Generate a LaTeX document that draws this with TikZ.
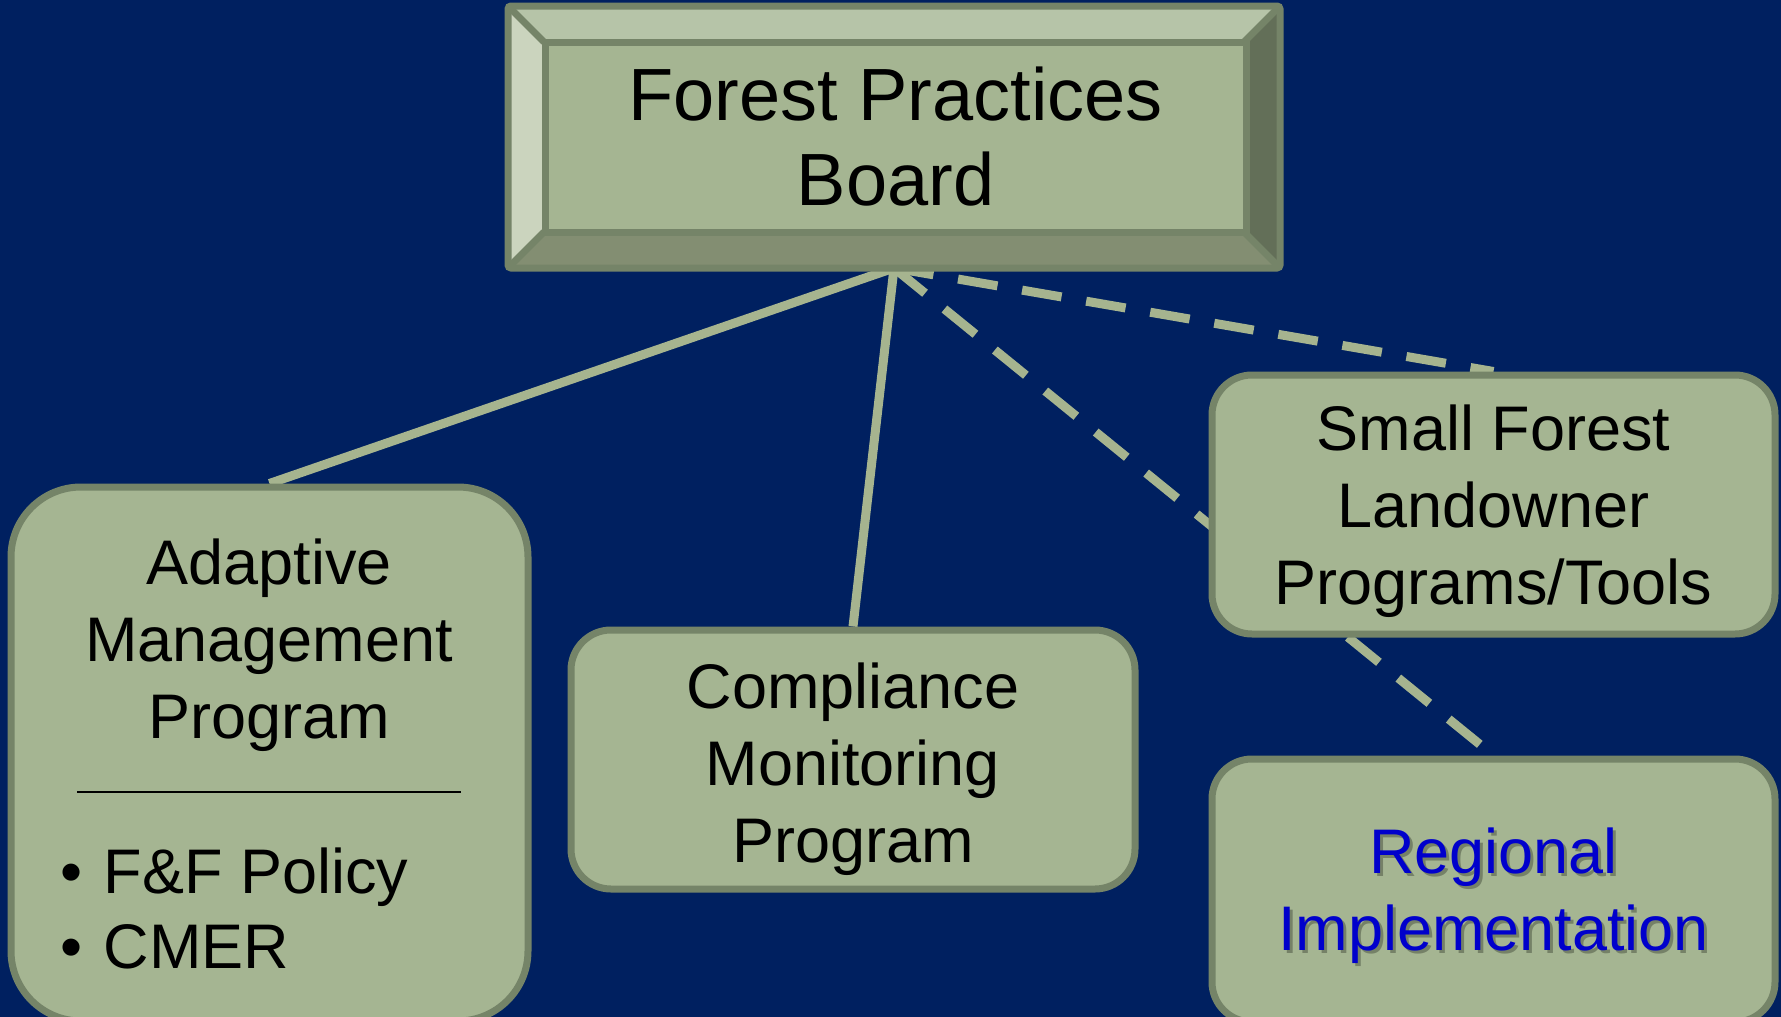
\documentclass[tikz,border=0pt]{standalone}
\usepackage{fontspec}
\setmainfont{Liberation Sans}
\usetikzlibrary{backgrounds}
\definecolor{navy}{RGB}{0,32,96}
\definecolor{sage}{RGB}{165,181,146}
\definecolor{sageedge}{RGB}{117,132,104}
\definecolor{linkgreen}{RGB}{166,180,143}
\definecolor{bevtop}{RGB}{182,196,168}
\definecolor{bevleft}{RGB}{203,212,190}
\definecolor{bevright}{RGB}{99,111,88}
\definecolor{bevbottom}{RGB}{131,142,114}
\definecolor{regblue}{RGB}{0,0,204}
\tikzset{
    progbox/.style={draw=sageedge, fill=sage, line width=7pt, rounded corners=40pt},
    boxtext/.style={align=center, inner sep=0pt, font=\fontsize{63}{77}\selectfont},
    link/.style={draw=linkgreen, line width=9pt},
    dashlink/.style={link, dash pattern=on 40pt off 25pt},
}
% bevelled board box: x1, y1, x2, y2, bevel width
\newcommand\BevelFrame[5]{%
    \fill[bevtop] (#1,#2) -- (#3,#2) -- (#3-#5,#2+#5) -- (#1+#5,#2+#5) -- cycle;
    \fill[bevleft] (#1,#2) -- (#1+#5,#2+#5) -- (#1+#5,#4-#5) -- (#1,#4) -- cycle;
    \fill[bevright] (#3,#2) -- (#3,#4) -- (#3-#5,#4-#5) -- (#3-#5,#2+#5) -- cycle;
    \fill[bevbottom] (#1,#4) -- (#1+#5,#4-#5) -- (#3-#5,#4-#5) -- (#3,#4) -- cycle;
    \draw[sageedge, line width=7pt, line join=round]
        (#1,#2) -- (#1+#5,#2+#5) (#3,#2) -- (#3-#5,#2+#5)
        (#1,#4) -- (#1+#5,#4-#5) (#3,#4) -- (#3-#5,#4-#5);
}

\begin{document}
\begin{tikzpicture}[x=1pt, y=-1pt]
    \useasboundingbox (0,0) rectangle (1781,1017);
    % board
    \BevelFrame{508}{6}{1280}{268}{36}
    \node[draw=sageedge, fill=sage, line width=7pt, minimum width=701pt, minimum height=190pt,
          align=center, inner sep=0pt, font=\fontsize{74}{85}\selectfont] (fpb) at (895.5,137) {Forest Practices\\Board};
    \draw[sageedge, line width=7pt, rounded corners=3pt] (508,6) rectangle (1280,268);
    \coordinate (fpbfoot) at (894,268);

    % programs
    \node[progbox, rounded corners=70pt, minimum width=517pt, minimum height=534pt] (amp) at (269.5,754) {};
    \node[boxtext] (amptitle) at (269,645) {Adaptive\\Management\\Program};
    \draw[line width=1.8pt] (77,792) coordinate (sepl) -- (461,792) coordinate (sepr);
    \node[boxtext, align=left, anchor=west, font=\fontsize{63}{75}\selectfont] (ampitems) at (60,908)
        {\textbullet\hspace{0.34em}F\&F Policy\\\textbullet\hspace{0.34em}CMER};

    \node[progbox, minimum width=564pt, minimum height=259pt] (cmp) at (853,759.5) {};
    \node[boxtext] (cmptext) at (853,769) {Compliance\\Monitoring\\Program};

    \node[progbox, minimum width=563pt, minimum height=259pt] (sfl) at (1493.5,504.5) {};
    \node[boxtext] (sfltext) at (1493.5,511.5) {Small Forest\\Landowner\\Programs/Tools};

    \node[progbox, minimum width=563pt, minimum height=263pt] (reg) at (1493.5,890.5) {};
    \node[boxtext, text=sageedge!60!black, opacity=0.5] (regshadow) at (1496.5,899) {Regional\\Implementation};
    \node[boxtext, text=regblue] (regtext) at (1493.5,896) {Regional\\Implementation};

    \begin{pgfonlayer}{background}
        \fill[navy] (0,0) rectangle (1781,1017);
        \draw[link] (fpbfoot) -- (amp.north);
        \draw[link] (fpbfoot) -- (cmp.north);
        \draw[dashlink] (fpbfoot) -- (sfl.north);
        \draw[dashlink] (fpbfoot) -- (reg.north);
    \end{pgfonlayer}
\end{tikzpicture}
\end{document}
